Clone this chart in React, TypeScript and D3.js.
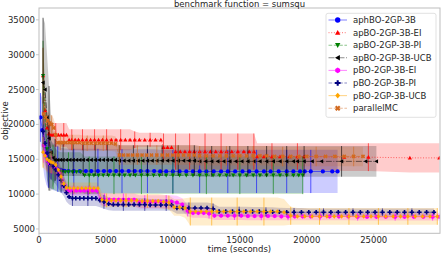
import React from 'react';
import * as d3 from 'd3';

type Row = [number, number, number]; // [time (s), mean objective, std]

const blueRows: Row[] = [
  [100, 21000, 3500], [250, 19200, 4500], [400, 17000, 4500], [550, 15500, 4200], [700, 14700, 3800],
  [850, 14300, 3500], [1000, 14000, 3400], [1200, 13800, 3300], [1400, 13600, 3250], [1650, 13450, 3200],
  [1900, 13350, 3200], [2200, 13300, 3200], [2600, 13300, 3200], [3050, 13300, 3200], [3500, 13300, 3200],
  [3900, 13300, 3200], [4400, 13300, 3200], [4850, 13300, 3150], [5300, 13300, 3150], [5750, 13300, 3150],
  [6200, 13300, 3150], [6700, 13300, 3150], [7150, 13300, 3150], [7600, 13300, 3150], [8100, 13300, 3150],
  [8600, 13300, 3150], [9050, 13250, 3100], [9500, 13250, 3100], [10000, 13250, 3100], [10500, 13250, 3100],
  [11000, 13250, 3100], [11500, 13250, 3100], [12000, 13250, 3100], [12500, 13250, 3100], [13050, 13250, 3100],
  [13600, 13250, 3100], [14100, 13250, 3100], [14650, 13250, 3100], [15200, 13250, 3100], [15700, 13250, 3100],
  [16250, 13250, 3100], [16800, 13250, 3100], [17300, 13250, 3100], [17900, 13250, 3100], [18500, 13250, 3100],
  [19000, 13250, 3100], [19500, 13250, 3100], [19850, 13250, 3100], [20300, 13250, 3100], [21200, 13250, 3100],
  [21900, 13250, 3100], [22300, 13250, 3100],
];

const redRows: Row[] = [
  [300, 27000, 4000], [450, 22000, 3200], [600, 19500, 2200], [750, 18700, 1800], [900, 18500, 1700],
  [1050, 18500, 1700], [1250, 18500, 1700], [1450, 18500, 1700], [1650, 18500, 1700], [1850, 18500, 1700],
  [2050, 18500, 1700], [2250, 17800, 1500], [2450, 17800, 1500], [2700, 17800, 1500], [2950, 17800, 1500],
  [3250, 17800, 1500], [3550, 17800, 1500], [3850, 17800, 1500], [4150, 17800, 1500], [4450, 17800, 1500],
  [4750, 17800, 1500], [5050, 17800, 1500], [5400, 17800, 1500], [5750, 17800, 1500], [6100, 17800, 1500],
  [6450, 17800, 1500], [6800, 17800, 1500], [7150, 17800, 1200], [7500, 17800, 1000], [7900, 17800, 1000],
  [8300, 17800, 1000], [8700, 17800, 1000], [9100, 17800, 1000], [9300, 16700, 2000], [9600, 16700, 2000],
  [9900, 16700, 2000], [10200, 16100, 2600], [10550, 16100, 2600], [10900, 16100, 2600], [11250, 16100, 2600],
  [11600, 16100, 2600], [12000, 16100, 2600], [12400, 16100, 2600], [12800, 16100, 2600], [13200, 16100, 2600],
  [13600, 16100, 2600], [14000, 16100, 2600], [14400, 16100, 2600], [14850, 16100, 2600], [15300, 16100, 2600],
  [15700, 16100, 2600], [16050, 16100, 2600], [16300, 15400, 1900], [16800, 15400, 1900], [17400, 15400, 1900],
  [18000, 15400, 1900], [18700, 15400, 1900], [19300, 15400, 1900], [19800, 15400, 1900], [22800, 15300, 2000],
  [24600, 15300, 2000], [27700, 15200, 2100], [29900, 15200, 2100],
];

const greenRows: Row[] = [
  [300, 27000, 5000], [450, 21000, 5000], [600, 16500, 4500], [750, 15000, 4000], [900, 14300, 3500],
  [1050, 13900, 3200], [1250, 13500, 3000], [1450, 13200, 2900], [1700, 13200, 2800], [1950, 13200, 2800],
  [2200, 13200, 2800], [2500, 13200, 2800], [2800, 13200, 2800], [3100, 13200, 2800], [3400, 12700, 2700],
  [3750, 12700, 2700], [4100, 12700, 2700], [4450, 12700, 2700], [4800, 12700, 2700], [5200, 12700, 2700],
  [5600, 12700, 2700], [6000, 12700, 2700], [6400, 12700, 2700], [6800, 12700, 2700], [7200, 12700, 2700],
  [7650, 12700, 2700], [8100, 12700, 2700], [8550, 12700, 2700], [9000, 12700, 2700], [9500, 12700, 2700],
  [10000, 12700, 2700], [10500, 12700, 2700], [11000, 12700, 2700], [11500, 12700, 2700], [12000, 12700, 2700],
  [12500, 12700, 2700], [13000, 12700, 2700], [13500, 12700, 2700], [14000, 12700, 2700], [14500, 12700, 2700],
  [15000, 12700, 2700], [15500, 12700, 2700], [16000, 12700, 2700], [16500, 12700, 2700], [17000, 12700, 2700],
  [17500, 12700, 2700], [18000, 12700, 2700], [18500, 12700, 2700], [19000, 12700, 2700], [19400, 12700, 2700],
  [19700, 12700, 2700],
];

const blackRows: Row[] = [
  [300, 26000, 9300], [450, 25000, 9500], [600, 21000, 9000], [750, 18000, 7500], [900, 16000, 5500],
  [1050, 15200, 4000], [1200, 14900, 3000], [1400, 14900, 2600], [1600, 14900, 2400], [1800, 14900, 2300],
  [2050, 14900, 2300], [2300, 14900, 2300], [2550, 14900, 2300], [2800, 14900, 2300], [3050, 14900, 2300],
  [3300, 14900, 2300], [3600, 14900, 2300], [3900, 14900, 2300], [4200, 14900, 2300], [4500, 14900, 2300],
  [4800, 14900, 2300], [5100, 14900, 2300], [5400, 14900, 2300], [5700, 14900, 2300], [6000, 14800, 2200],
  [6350, 14800, 2200], [6700, 14800, 2200], [7050, 14800, 2200], [7400, 14800, 2200], [7750, 14800, 2200],
  [8100, 14800, 2200], [8450, 14800, 2200], [8800, 14800, 2200], [9200, 14800, 2200], [9600, 14800, 2200],
  [10000, 14800, 2200], [10400, 14800, 2200], [10800, 14800, 2200], [11200, 14800, 2200], [11600, 14800, 2200],
  [12000, 14700, 2200], [12450, 14700, 2200], [12900, 14700, 2200], [13350, 14700, 2200], [13800, 14700, 2200],
  [14250, 14700, 2200], [14700, 14700, 2200], [15150, 14700, 2200], [15600, 14700, 2200], [16050, 14700, 2200],
  [16500, 14700, 2200], [17000, 14700, 2200], [17500, 14700, 2200], [18000, 14700, 2200], [18500, 14700, 2200],
  [19000, 14700, 2200], [19300, 14700, 2200], [19800, 14700, 2200], [20400, 14700, 2200], [21100, 14700, 2200],
  [22600, 14700, 2200], [24400, 14700, 2200], [25200, 14700, 2200],
];

const magentaRows: Row[] = [
  [350, 17000, 2500], [500, 15600, 2000], [650, 14800, 1600], [800, 14400, 1400], [950, 14200, 1300],
  [1100, 14000, 1300], [1300, 13600, 1300], [1500, 13000, 1300], [1700, 12000, 1200], [1900, 11200, 1000],
  [2100, 10700, 800], [2300, 10500, 700], [2550, 10500, 700], [2800, 10500, 700], [3100, 10500, 700],
  [3400, 10500, 700], [3700, 10500, 700], [4000, 10500, 700], [4300, 10500, 700], [4600, 9300, 900],
  [4900, 9200, 900], [5250, 9200, 900], [5600, 9200, 900], [5950, 9200, 900], [6300, 9200, 900],
  [6700, 9200, 900], [7100, 9200, 900], [7500, 8900, 950], [7900, 8900, 950], [8300, 8900, 950],
  [8700, 8900, 950], [9100, 8900, 950], [9500, 8900, 950], [9900, 8900, 950], [10300, 8800, 950],
  [10700, 8500, 900], [11100, 7600, 800], [11500, 7300, 700], [11900, 7300, 700], [12300, 7300, 700],
  [12700, 7200, 700], [13100, 6900, 600], [13600, 6900, 600], [14100, 6900, 600], [14600, 6900, 600],
  [15100, 6900, 600], [15600, 6850, 600], [16100, 6850, 600], [16600, 6850, 600], [17100, 6850, 600],
  [17600, 6850, 600], [18100, 6800, 550], [18600, 6800, 550], [19100, 6800, 550], [19700, 6800, 550],
  [20300, 6800, 550], [21000, 6800, 550], [21700, 6800, 550], [22400, 6800, 550], [23100, 6800, 550],
  [23800, 6750, 550], [24500, 6750, 550], [25200, 6750, 550], [25900, 6750, 550], [26600, 6750, 550],
  [27300, 6750, 550], [28000, 6750, 550], [28700, 6750, 550], [29400, 6750, 550], [29900, 6750, 550],
];

const navyRows: Row[] = [
  [300, 19000, 3000], [450, 17300, 2800], [600, 15900, 2500], [750, 14800, 2300], [900, 14300, 2200],
  [1050, 14000, 2200], [1250, 13500, 2100], [1450, 12800, 2000], [1650, 12000, 1800], [1850, 11200, 1500],
  [2050, 10200, 1300], [2250, 9600, 1100], [2500, 9400, 1100], [2750, 9400, 1100], [3050, 9400, 1100],
  [3350, 9400, 1100], [3650, 9400, 1100], [3950, 9400, 1100], [4250, 9400, 1100], [4550, 9100, 1000],
  [4850, 8900, 1000], [5200, 8600, 900], [5550, 8500, 900], [5900, 8500, 900], [6300, 8500, 900],
  [6700, 8500, 900], [7100, 8500, 900], [7500, 8500, 900], [7900, 8500, 900], [8300, 8450, 850],
  [8700, 8450, 850], [9100, 8450, 850], [9500, 8450, 850], [9900, 8450, 850], [10300, 8000, 800],
  [10750, 8000, 800], [11200, 8000, 800], [11650, 8000, 800], [12100, 8000, 800], [12550, 8000, 800],
  [13000, 7900, 750], [13450, 7500, 700], [13950, 7500, 700], [14450, 7500, 700], [14950, 7500, 700],
  [15450, 7500, 700], [15950, 7500, 650], [16450, 7500, 650], [16950, 7450, 650], [17450, 7450, 650],
  [17950, 7450, 600], [18500, 7400, 600], [19050, 7400, 600], [19600, 7400, 600], [20150, 7400, 550],
  [20700, 7400, 550], [21250, 7400, 550], [21800, 7400, 550], [22350, 7400, 550], [22900, 7400, 550],
  [23450, 7400, 550], [24000, 7400, 550], [24550, 7400, 550], [25100, 7400, 550], [25650, 7400, 550],
  [26200, 7400, 550], [26750, 7400, 550], [27300, 7400, 550], [27850, 7400, 550], [28400, 7400, 550],
  [28950, 7400, 550], [29500, 7400, 550],
];

const orangeRows: Row[] = [
  [300, 16000, 2200], [450, 15500, 2000], [600, 15000, 1800], [750, 14800, 1700], [900, 14600, 1600],
  [1050, 14500, 1500], [1250, 14200, 1400], [1450, 13500, 1300], [1650, 12500, 1200], [1850, 11500, 1000],
  [2050, 10900, 900], [2300, 10850, 800], [2600, 10850, 800], [2900, 10850, 800], [3200, 10850, 800],
  [3500, 10850, 800], [3800, 10850, 800], [4100, 10850, 800], [4400, 10850, 800], [4700, 9200, 1000],
  [5050, 9100, 1000], [5400, 9100, 1000], [5750, 9100, 1000], [6100, 9100, 1000], [6500, 9100, 1000],
  [6900, 9100, 1000], [7300, 9100, 1000], [7700, 9000, 1000], [8100, 9000, 1000], [8500, 9000, 1000],
  [8900, 9000, 1000], [9300, 8900, 1000], [9700, 8800, 1000], [10100, 8100, 1200], [10500, 8100, 1200],
  [10900, 8000, 1400], [11300, 7500, 2000], [11700, 7500, 2000], [12100, 7500, 2000], [12500, 7500, 2000],
  [12900, 7500, 2000], [13300, 7500, 2000], [13800, 7500, 2000], [14300, 7500, 2000], [14800, 7500, 2000],
  [15300, 7500, 2000], [15800, 7500, 2000], [16300, 7500, 2000], [16800, 7500, 2000], [17300, 7500, 2000],
  [17800, 7500, 2000], [18300, 7400, 1900], [18800, 6900, 1300], [19300, 6800, 1200], [19850, 6800, 1200],
  [20400, 6800, 1200], [20950, 6800, 1200], [21500, 6800, 1200], [22050, 6800, 1200], [22600, 6800, 1200],
  [23150, 6800, 1200], [23700, 6800, 1200], [24250, 6800, 1200], [24800, 6800, 1200], [25350, 6800, 1200],
  [25900, 6800, 1200], [26450, 6800, 1200], [27000, 6800, 1200], [27550, 6800, 1200], [28100, 6800, 1200],
  [28650, 6800, 1200], [29200, 6800, 1200], [29750, 6800, 1200],
];

const chocolateRows: Row[] = [
  [350, 21500, 1500], [500, 21000, 1500], [650, 20500, 1400], [800, 20200, 1300], [950, 20000, 1300],
  [1100, 19500, 1300], [1250, 18500, 1200], [1400, 17400, 1100], [1600, 17400, 1100], [1800, 17400, 1100],
  [2000, 17400, 1100], [2250, 17400, 1100], [2500, 17400, 1100], [2750, 17400, 1100], [3000, 17400, 1100],
  [3300, 17300, 1100], [3600, 17300, 1100], [3900, 17300, 1100], [4200, 17300, 1100], [4500, 17300, 1100],
  [4800, 17300, 1100], [5100, 17300, 1100], [5400, 17300, 1100], [5700, 17200, 1100], [6000, 15600, 1400],
  [6300, 15600, 1400], [6650, 15600, 1400], [7000, 15600, 1400], [7350, 15600, 1400], [7700, 15600, 1400],
  [8050, 15600, 1400], [8400, 15600, 1400], [8800, 15600, 1400], [9200, 15600, 1400], [9600, 15600, 1400],
  [10000, 15600, 1400], [10400, 15600, 1400], [10800, 15600, 1400], [11200, 15600, 1400], [11600, 15600, 1400],
  [12000, 15500, 1400], [12500, 15500, 1400], [13000, 15500, 1400], [13500, 15500, 1400], [14000, 15500, 1400],
  [14500, 15500, 1400], [15000, 15500, 1400], [15500, 15500, 1400], [16000, 15500, 1400], [16500, 15500, 1400],
  [17000, 15500, 1400], [17600, 15400, 1400], [18200, 15400, 1400], [18800, 15400, 1400], [19400, 15400, 1400],
  [20000, 15400, 1400], [20700, 15400, 1400], [21400, 15400, 1400], [22100, 15400, 1400], [22800, 15400, 1400],
  [23500, 15400, 1400], [24200, 15400, 1400],
];

const seriesNames = [
  'aphBO-2GP-3B', 'apBO-2GP-3B-EI', 'apBO-2GP-3B-PI', 'apBO-2GP-3B-UCB',
  'pBO-2GP-3B-EI', 'pBO-2GP-3B-PI', 'pBO-2GP-3B-UCB', 'parallelMC',
];
const seriesRows = [blueRows, redRows, greenRows, blackRows, magentaRows, navyRows, orangeRows, chocolateRows];
const seriesColors = ['#0000ff', '#ff0000', '#008000', '#000000', '#ff00ff', '#000080', '#ffa500', '#d2691e'];
const seriesDash = ['', '1,1.7', '3.7,1.6', '6,1.5,1,1.5', '', '3.7,1.6', '', '3.7,1.6'];
const seriesMarker = ['o', '^', 'v', '<', 'h', 'P', 'D', 'X'];
const seriesErrEvery = [4, 3, 5, 3, 4, 4, 4, 4];

const xTicks = [0, 5000, 10000, 15000, 20000, 25000];
const yTicks = [5000, 10000, 15000, 20000, 25000, 30000, 35000];
const titleText = 'benchmark function = sumsqu';
const xLabel = 'time (seconds)';
const yLabel = 'objective';

const W = 441;
const H = 254;
const PL = 39, PR = 440, PT = 8, PB = 233.3;
const FONT = 'DejaVu Sans, Verdana, sans-serif';

const x = d3.scaleLinear().domain([0, 29950]).range([PL, PR]);
const y = d3.scaleLinear().domain([4380, 36700]).range([PB, PT]);

function markerPath(kind: string, r: number): string {
  const poly = (pts: [number, number][]) =>
    'M' + pts.map(p => `${p[0].toFixed(2)},${p[1].toFixed(2)}`).join('L') + 'Z';
  switch (kind) {
    case 'o':
      return `M${r},0A${r},${r} 0 1,1 ${-r},0A${r},${r} 0 1,1 ${r},0Z`;
    case '^':
      return poly([[0, -r], [r, r * 0.8], [-r, r * 0.8]]);
    case 'v':
      return poly([[0, r], [r, -r * 0.8], [-r, -r * 0.8]]);
    case '<':
      return poly([[-r, 0], [r * 0.8, -r], [r * 0.8, r]]);
    case 'h': {
      const pts: [number, number][] = [];
      for (let k = 0; k < 6; k++) {
        const a = (Math.PI / 3) * k - Math.PI / 2;
        pts.push([r * 1.05 * Math.cos(a), r * 1.05 * Math.sin(a)]);
      }
      return poly(pts);
    }
    case 'D':
      return poly([[0, -r * 1.1], [r * 0.9, 0], [0, r * 1.1], [-r * 0.9, 0]]);
    case 'P':
    case 'X': {
      const a = r * 0.38;
      const R = r * 1.05;
      let pts: [number, number][] = [
        [-a, -R], [a, -R], [a, -a], [R, -a], [R, a], [a, a],
        [a, R], [-a, R], [-a, a], [-R, a], [-R, -a], [-a, -a],
      ];
      if (kind === 'X') {
        const c = Math.SQRT1_2;
        pts = pts.map(([px, py]) => [px * c - py * c, px * c + py * c]);
      }
      return poly(pts);
    }
    default:
      return '';
  }
}

const legendRowY = [20, 32.6, 45.2, 57.8, 70.4, 83, 95.6, 108.2];

export default function App() {
  const area = d3.area<Row>()
    .x(d => x(d[0]))
    .y0(d => y(d[1] - d[2]))
    .y1(d => y(d[1] + d[2]));
  const line = d3.line<Row>().x(d => x(d[0])).y(d => y(d[1]));

  return (
    <svg width={W} height={H} style={{ position: 'fixed', left: 0, top: 0, background: '#fff' }}
      fontFamily={FONT}>
      <defs>
        <clipPath id="plotclip">
          <rect x={PL} y={PT} width={PR - PL} height={PB - PT} />
        </clipPath>
      </defs>
      <rect x={0} y={0} width={W} height={H} fill="#fff" />

      <g clipPath="url(#plotclip)">
        {seriesRows.map((rows, i) => (
          <path key={'band' + i} d={area(rows) || ''} fill={seriesColors[i]} fillOpacity={0.2} stroke="none" />
        ))}
        {seriesRows.map((rows, i) => (
          <g key={'s' + i}>
            {rows.map((d, j) =>
              j % seriesErrEvery[i] === 0 ? (
                <line key={'e' + j} x1={x(d[0])} x2={x(d[0])} y1={y(d[1] - d[2])} y2={y(d[1] + d[2])}
                  stroke={seriesColors[i]} strokeWidth={1} strokeOpacity={0.6} />
              ) : null
            )}
            <path d={line(rows) || ''} fill="none" stroke={seriesColors[i]} strokeWidth={1}
              strokeOpacity={0.55} strokeDasharray={seriesDash[i] || undefined} />
            {rows.map((d, j) => (
              <path key={'m' + j} transform={`translate(${x(d[0])},${y(d[1])})`}
                d={markerPath(seriesMarker[i], 2.1)} fill={seriesColors[i]} />
            ))}
          </g>
        ))}
      </g>

      <rect x={PL} y={PT} width={PR - PL} height={PB - PT} fill="none" stroke="#bdbdbd" strokeWidth={1} />

      {xTicks.map(t => (
        <g key={'xt' + t}>
          <line x1={x(t)} x2={x(t)} y1={PB} y2={PB + 3} stroke="#bdbdbd" strokeWidth={0.8} />
          <text x={x(t)} y={242.6} fontSize={8.5} textAnchor="middle" fill="#262626">{t}</text>
        </g>
      ))}
      {yTicks.map(t => (
        <g key={'yt' + t}>
          <line x1={PL - 3} x2={PL} y1={y(t)} y2={y(t)} stroke="#bdbdbd" strokeWidth={0.8} />
          <text x={PL - 4} y={y(t)} dy="0.35em" fontSize={8.5} textAnchor="end" fill="#262626">{t}</text>
        </g>
      ))}

      <text x={(PL + PR) / 2} y={251.5} fontSize={8.5} textAnchor="middle" fill="#262626">{xLabel}</text>
      <text transform={`translate(8,${(PT + PB) / 2}) rotate(-90)`} fontSize={8.5} textAnchor="middle"
        fill="#262626">{yLabel}</text>
      <text x={(PL + PR) / 2} y={7.2} fontSize={8.5} textAnchor="middle" fill="#262626">{titleText}</text>

      <rect x={326} y={13.3} width={110} height={104} rx={2} fill="#fff" fillOpacity={0.85}
        stroke="#d9d9d9" strokeWidth={0.8} />
      {seriesNames.map((name, i) => (
        <g key={'lg' + i}>
          <line x1={328.5} x2={347} y1={legendRowY[i]} y2={legendRowY[i]} stroke={seriesColors[i]}
            strokeOpacity={0.45} strokeWidth={1.1} strokeDasharray={seriesDash[i] || undefined} />
          <path transform={`translate(337.7,${legendRowY[i]})`} d={markerPath(seriesMarker[i], 2.7)}
            fill={seriesColors[i]} />
          <text x={353} y={legendRowY[i]} dy="0.35em" fontSize={8.5} fill="#262626">{name}</text>
        </g>
      ))}
    </svg>
  );
}
